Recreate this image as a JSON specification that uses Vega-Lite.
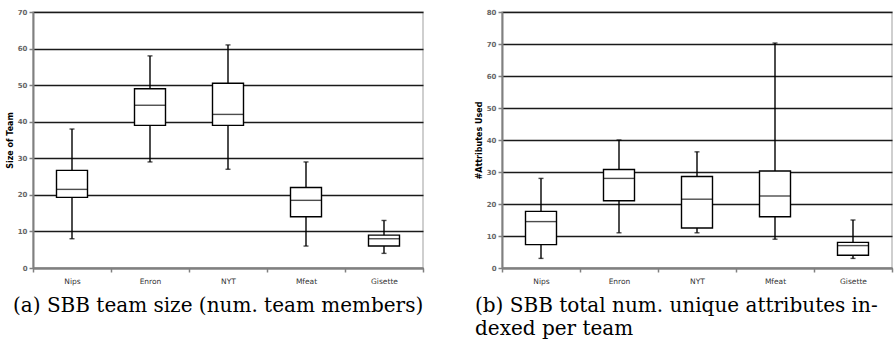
{
  "$schema": "https://vega.github.io/schema/vega-lite/v6.json",
  "padding": {"left": 5, "top": 7, "right": 0, "bottom": 0},
  "background": "white",
  "bounds": "flush",
  "spacing": 79,
  "datasets": {
    "a": [
      {"cat": "Nips", "lo": 8, "q1": 19.3, "med": 21.5, "q3": 26.7, "hi": 38},
      {"cat": "Enron", "lo": 29, "q1": 39, "med": 44.5, "q3": 49, "hi": 58},
      {"cat": "NYT", "lo": 27, "q1": 39, "med": 42, "q3": 50.5, "hi": 61},
      {"cat": "Mfeat", "lo": 6, "q1": 14, "med": 18.5, "q3": 22, "hi": 29},
      {"cat": "Gisette", "lo": 4, "q1": 6, "med": 8, "q3": 9, "hi": 13}
    ],
    "b": [
      {"cat": "Nips", "lo": 3, "q1": 7.3, "med": 14.5, "q3": 17.7, "hi": 28},
      {"cat": "Enron", "lo": 11, "q1": 21, "med": 28, "q3": 30.8, "hi": 40},
      {"cat": "NYT", "lo": 11, "q1": 12.5, "med": 21.5, "q3": 28.6, "hi": 36.3},
      {"cat": "Mfeat", "lo": 9, "q1": 16, "med": 22.5, "q3": 30.3, "hi": 70.3},
      {"cat": "Gisette", "lo": 3, "q1": 4, "med": 7, "q3": 8, "hi": 15}
    ]
  },
  "config": {
    "view": {"stroke": "#c0c0c0", "strokeWidth": 1.5},
    "axisX": {
      "title": null, "labelAngle": 0, "tickBand": "extent", "grid": false,
      "domainColor": "#808080", "domainWidth": 2, "tickColor": "#808080", "tickWidth": 1.5, "tickSize": 4,
      "labelFont": "DejaVu Sans", "labelFontSize": 7.5, "labelColor": "#333333", "labelPadding": 5
    },
    "axisY": {
      "grid": true, "gridColor": "#1a1a1a", "gridWidth": 1.3, "labelOverlap": false,
      "domainColor": "#808080", "domainWidth": 2, "tickColor": "#808080", "tickWidth": 1.5, "tickSize": 4,
      "labelFont": "DejaVu Sans", "labelFontSize": 7, "labelFontWeight": "bold", "labelColor": "#666666", "labelPadding": 2,
      "titleFont": "DejaVu Sans", "titleFontSize": 8, "titleFontWeight": "bold", "titleColor": "#000000", "titlePadding": 3
    },
    "title": {"font": "DejaVu Serif", "fontSize": 20, "fontWeight": "normal", "color": "#000000", "orient": "bottom", "anchor": "start", "frame": "group", "lineHeight": 23}
  },
  "hconcat": [
    {
      "width": 390, "height": 256,
      "data": {"name": "a"},
      "title": {"text": "(a) SBB team size (num. team members)", "dx": -20, "offset": 11},
      "encoding": {
        "x": {"field": "cat", "type": "nominal", "sort": null, "scale": {"paddingInner": 0, "paddingOuter": 0}}
      },
      "layer": [
        {"mark": {"type": "rule", "color": "black", "strokeWidth": 1.4},
         "encoding": {"y": {"field": "lo", "type": "quantitative", "scale": {"domain": [0, 70]}, "axis": {"values": [0,10,20,30,40,50,60,70], "title": "Size of Team"}}, "y2": {"field": "hi"}}},
        {"mark": {"type": "bar", "fill": "white", "stroke": "black", "strokeWidth": 1.4, "width": 31},
         "encoding": {"y": {"field": "q1", "type": "quantitative", "scale": {"domain": [0, 70]}, "axis": {"values": [0,10,20,30,40,50,60,70], "title": "Size of Team"}}, "y2": {"field": "q3"}}},
        {"mark": {"type": "tick", "color": "black", "size": 31, "thickness": 1.4},
         "encoding": {"y": {"field": "med", "type": "quantitative", "scale": {"domain": [0, 70]}, "axis": {"values": [0,10,20,30,40,50,60,70], "title": "Size of Team"}}}},
        {"mark": {"type": "tick", "color": "black", "size": 5, "thickness": 1.4},
         "encoding": {"y": {"field": "lo", "type": "quantitative", "scale": {"domain": [0, 70]}, "axis": {"values": [0,10,20,30,40,50,60,70], "title": "Size of Team"}}}},
        {"mark": {"type": "tick", "color": "black", "size": 5, "thickness": 1.4},
         "encoding": {"y": {"field": "hi", "type": "quantitative", "scale": {"domain": [0, 70]}, "axis": {"values": [0,10,20,30,40,50,60,70], "title": "Size of Team"}}}}
      ]
    },
    {
      "width": 390, "height": 256,
      "data": {"name": "b"},
      "title": {"text": ["(b) SBB total num. unique attributes in-", "dexed per team"], "dx": -27, "offset": 11},
      "encoding": {
        "x": {"field": "cat", "type": "nominal", "sort": null, "scale": {"paddingInner": 0, "paddingOuter": 0}}
      },
      "layer": [
        {"mark": {"type": "rule", "color": "black", "strokeWidth": 1.4},
         "encoding": {"y": {"field": "lo", "type": "quantitative", "scale": {"domain": [0, 80]}, "axis": {"values": [0,10,20,30,40,50,60,70,80], "title": "#Attributes Used"}}, "y2": {"field": "hi"}}},
        {"mark": {"type": "bar", "fill": "white", "stroke": "black", "strokeWidth": 1.4, "width": 31},
         "encoding": {"y": {"field": "q1", "type": "quantitative", "scale": {"domain": [0, 80]}, "axis": {"values": [0,10,20,30,40,50,60,70,80], "title": "#Attributes Used"}}, "y2": {"field": "q3"}}},
        {"mark": {"type": "tick", "color": "black", "size": 31, "thickness": 1.4},
         "encoding": {"y": {"field": "med", "type": "quantitative", "scale": {"domain": [0, 80]}, "axis": {"values": [0,10,20,30,40,50,60,70,80], "title": "#Attributes Used"}}}},
        {"mark": {"type": "tick", "color": "black", "size": 5, "thickness": 1.4},
         "encoding": {"y": {"field": "lo", "type": "quantitative", "scale": {"domain": [0, 80]}, "axis": {"values": [0,10,20,30,40,50,60,70,80], "title": "#Attributes Used"}}}},
        {"mark": {"type": "tick", "color": "black", "size": 5, "thickness": 1.4},
         "encoding": {"y": {"field": "hi", "type": "quantitative", "scale": {"domain": [0, 80]}, "axis": {"values": [0,10,20,30,40,50,60,70,80], "title": "#Attributes Used"}}}}
      ]
    }
  ]
}
